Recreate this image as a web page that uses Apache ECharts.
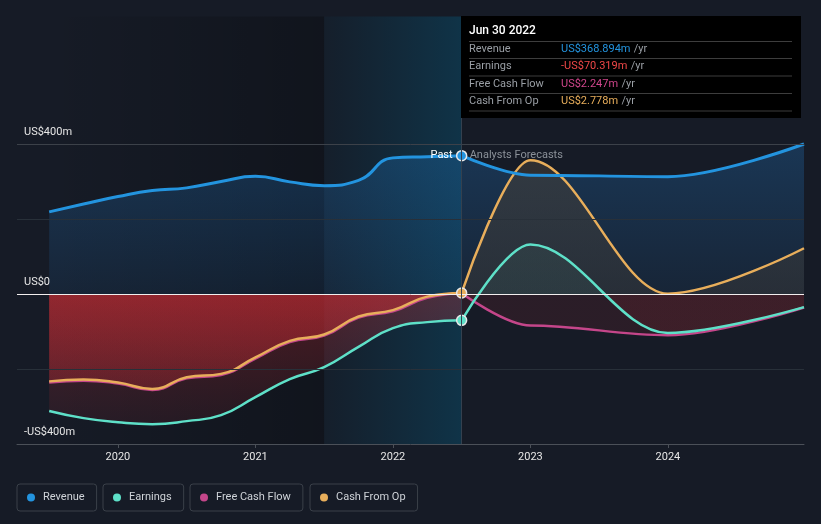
<!DOCTYPE html>
<html><head><meta charset="utf-8">
<style>html,body{margin:0;padding:0;background:#161b26;}#c{width:821px;height:524px;}</style>
<script src="https://cdn.jsdelivr.net/npm/echarts@6/dist/echarts.min.js"></script>
</head><body><div id="c"></div>
<script>
// ---- data ----
const pastYears = [2019.5, 2019.75, 2020, 2020.25, 2020.5, 2020.75, 2021, 2021.25, 2021.5, 2021.75, 2022, 2022.25, 2022.5];
const revenuePast  = [219, 240, 260, 276, 283, 300, 314, 299, 289, 303, 363, 366, 368.894];
const earningsPast = [-312, -331, -342, -347, -339, -323, -275, -227, -195, -141, -91, -75, -70.319];
const fcfPast      = [-236, -231, -239, -256, -225, -216, -172, -128, -111, -63, -46, -10, 2.247];
const cfoPast      = [-233, -228, -236, -253, -222, -213, -169, -125, -108, -60, -43, -7, 2.778];

const forecastYears    = [2022.5, 2023, 2024, 2024.99];
const revenueForecast  = [368.894, 317, 313, 400];
const earningsForecast = [-70.319, 132, -104, -35];
const fcfForecast      = [2.247, -84, -110, -36];
const cfoForecast      = [2.778, 357, 1, 122];

const seriesNames = ['Revenue', 'Earnings', 'Free Cash Flow', 'Cash From Op'];
const yTicks = [-400, 0, 400];
const yTickLabels = ['-US$400m', 'US$0', 'US$400m'];
const tooltipDate = 'Jun 30 2022';
const pastLabel = 'Past';
const forecastLabel = 'Analysts Forecasts';
const highlightStart = 2021.5;
const pastStart = 2019.5;

// ---- styles ----
const FONT = 'Roboto, "Noto Sans", sans-serif';
const colors = ['#2394df', '#5ee0c8', '#c4468a', '#e8ae5b'];
const H = 524, f0 = 294 / H;
function vgrad(stops) { return {type:'linear', x:0, y:0, x2:0, y2:H, global:true, colorStops: stops.map(s => ({offset:s[0], color:s[1]}))}; }
const blueArea = vgrad([[0,'rgba(35,125,205,0.30)'],[145/H,'rgba(35,125,205,0.28)'],[f0,'rgba(35,125,205,0.10)'],[f0,'rgba(35,125,205,0)'],[1,'rgba(35,125,205,0)']]);
const pastRed = vgrad([[0,'rgba(255,255,255,0.05)'],[f0,'rgba(255,255,255,0.05)'],[f0,'rgba(210,45,52,0.30)'],[444/H,'rgba(210,45,52,0.06)'],[1,'rgba(210,45,52,0.06)']]);
const cfoF = vgrad([[0,'rgba(64,60,56,0.65)'],[150/H,'rgba(64,60,56,0.65)'],[f0,'rgba(64,60,56,0.40)'],[f0,'rgba(210,45,52,0.10)'],[1,'rgba(210,45,52,0.10)']]);
const earnF = vgrad([[0,'rgba(94,224,200,0.13)'],[f0,'rgba(94,224,200,0.10)'],[f0,'rgba(210,45,52,0.11)'],[1,'rgba(210,45,52,0.11)']]);
const fcfF = vgrad([[0,'rgba(255,255,255,0.04)'],[f0,'rgba(255,255,255,0.04)'],[f0,'rgba(210,45,52,0.11)'],[1,'rgba(210,45,52,0.11)']]);

const metrics = [
  {past: revenuePast,  fc: revenueForecast,  pastArea: blueArea, fcArea: blueArea, width: 3, marker: true},
  {past: earningsPast, fc: earningsForecast, pastArea: pastRed,  fcArea: earnF,    width: 2.5, marker: true},
  {past: fcfPast,      fc: fcfForecast,      pastArea: pastRed,  fcArea: fcfF,     width: 2.5, marker: false},
  {past: cfoPast,      fc: cfoForecast,      pastArea: pastRed,  fcArea: cfoF,     width: 2.5, marker: true},
];
const zip = (xs, ys) => xs.map((x, i) => [x, ys[i]]);
const PAST_SMOOTH = {smooth: 0.5};
const FC_SMOOTH = {smooth: 0.35, smoothMonotone: 'x'};

const series = [];
// areas
metrics.forEach((m, i) => {
  [[pastYears, m.past, m.pastArea, PAST_SMOOTH], [forecastYears, m.fc, m.fcArea, FC_SMOOTH]].forEach(([xs, ys, area, sm], k) => {
    series.push(Object.assign({type:'line', name: seriesNames[i] + ' area ' + k, data: zip(xs, ys),
      symbol:'none', silent:true, z:2, lineStyle:{width:0}, areaStyle:{color: area, opacity:1}, color: colors[i]}, sm));
  });
});
// overlays / grid lines
const lastPast = pastYears[pastYears.length - 1];
series.push({type:'line', name:'overlay', data:[], z:3, silent:true,
  markArea: {silent:true, data: [
    [{xAxis: pastStart, itemStyle:{color:{type:'linear', x:0, y:0, x2:1, y2:0, colorStops:[{offset:0,color:'rgba(0,0,0,0)'},{offset:1,color:'rgba(0,0,0,0.25)'}]}}}, {xAxis: highlightStart}],
    [{xAxis: highlightStart, itemStyle:{color:{type:'linear', x:0, y:0, x2:1, y2:0, colorStops:[{offset:0,color:'rgba(0,100,140,0.05)'},{offset:1,color:'rgba(0,108,150,0.30)'}]}}}, {xAxis: lastPast}]
  ]},
  markLine: {silent:true, symbol:'none', label:{show:false}, data: [
    {yAxis: 400, lineStyle:{color:'#3c4149', width:1, type:'solid'}},
    {yAxis: 200, lineStyle:{color:'#283039', width:1, type:'solid'}},
    {yAxis: -200, lineStyle:{color:'#283039', width:1, type:'solid'}},
    {yAxis: 0, lineStyle:{color:'#f2eeee', width:1, type:'solid'}},
    {xAxis: lastPast, lineStyle:{color:'#34414f', width:1, type:'solid'}}
  ]}
});
// lines (FCF before CFO so CFO sits on top)
[2, 3, 1, 0].forEach(i => {
  const m = metrics[i];
  const pastData = zip(pastYears, m.past).map((p, j, arr) => {
    if (j === arr.length - 1 && m.marker) {
      return {value: p, symbol:'circle', symbolSize: 10, itemStyle:{color: colors[i], borderColor:'#e8e8e8', borderWidth:1.5}};
    }
    return p;
  });
  const s = Object.assign({type:'line', name: seriesNames[i], data: pastData, symbol:'none', z:4,
    color: colors[i], itemStyle:{color: colors[i]}, lineStyle:{color: colors[i], width: m.width}}, PAST_SMOOTH);
  if (i === 0) {
    s.markPoint = {symbol:'circle', symbolSize:0, silent:true, data: [
      {coord:[lastPast, m.past[m.past.length-1]], label:{show:true, position:'left', distance:9, formatter: pastLabel, color:'#ffffff', fontSize:11, fontFamily:FONT}},
      {coord:[lastPast, m.past[m.past.length-1]], label:{show:true, position:'right', distance:8, formatter: forecastLabel, color:'#8b9199', fontSize:11, fontFamily:FONT}}
    ]};
  }
  series.push(Object.assign({type:'line', name: seriesNames[i] + ' fc', data: zip(forecastYears, m.fc), symbol:'none', z:4,
    color: colors[i], lineStyle:{color: colors[i], width: m.width}}, FC_SMOOTH));
  series.push(s);
});

// legends
const legendLefts = [17, 103, 190, 310];
const legends = seriesNames.map((n, i) => ({
  data:[n], left: legendLefts[i], top: 484, orient:'horizontal', selectedMode:false,
  icon:'circle', itemWidth:8, itemHeight:8, padding:[7,12,7,10],
  borderColor:'#3a4049', borderWidth:1, borderRadius:3,
  textStyle:{color:'#cfd3d8', fontSize:11, fontFamily:FONT, lineHeight:13, padding:[0,0,0,3]}
}));

// tooltip box
const fmt = v => (v < 0 ? '-US$' : 'US$') + Math.abs(v).toFixed(3) + 'm';
const tipValues = metrics.map(m => m.past[m.past.length - 1]);
const tipColors = ['#2394df', '#f04848', '#d0468c', '#e8ae5b'];
const rowY = [49.5, 66.5, 84, 101.5];
const sepY = [41.5, 58.5, 76, 93.5, 111];
const graphic = [
  {type:'rect', left:461, top:16, shape:{width:340, height:102}, style:{fill:'#000000'}, z:100},
  {type:'text', x:469, y:31, style:{text: tooltipDate, fill:'#ffffff', font:'500 12px ' + FONT, verticalAlign:'middle'}, z:101}
];
sepY.forEach(y => graphic.push({type:'line', shape:{x1:469, y1:y, x2:792, y2:y}, style:{stroke:'#3d3d3d', lineWidth:1}, z:101}));
seriesNames.forEach((n, i) => {
  graphic.push({type:'text', x:469, y:rowY[i], style:{text:n, fill:'#9a9fa5', font:'11px ' + FONT, verticalAlign:'middle'}, z:101});
  graphic.push({type:'text', x:561, y:rowY[i], style:{
    text:'{v|' + fmt(tipValues[i]) + '} {u|/yr}', verticalAlign:'middle',
    rich:{v:{fill: tipColors[i], fontSize:11, fontFamily:FONT}, u:{fill:'#9a9fa5', fontSize:11, fontFamily:FONT}}}, z:101});
});

const chart = echarts.init(document.getElementById('c'), null, {renderer:'canvas'});
chart.setOption({
  backgroundColor:'#161b26',
  animation:false,
  grid:{left:17, right:17, top:16.5, bottom:80, containLabel:false},
  xAxis:{type:'value', min:2019.266, max:2024.99,
    axisLine:{onZero:false, lineStyle:{color:'#4b5058', width:1}},
    axisTick:{show:true, length:4, lineStyle:{color:'#4b5058'}},
    splitLine:{show:false},
    axisLabel:{color:'#e6e6e6', fontSize:11, fontFamily:FONT, margin:8, showMinLabel:false, showMaxLabel:false,
      formatter: v => Math.abs(v - Math.round(v)) < 1e-6 ? String(Math.round(v)) : ''}},
  yAxis:{type:'value', min:-400, max:740, interval:200,
    axisLine:{show:false}, axisTick:{show:false}, splitLine:{show:false},
    axisLabel:{inside:true, margin:7, verticalAlign:'bottom', color:'#e6e6e6', fontSize:11, fontFamily:FONT, lineHeight:14, padding:[0,0,5,0],
      formatter: v => { const k = yTicks.indexOf(v); return k >= 0 ? yTickLabels[k] : ''; }}},
  legend: legends,
  series: series,
  graphic: graphic
});
</script></body></html>
